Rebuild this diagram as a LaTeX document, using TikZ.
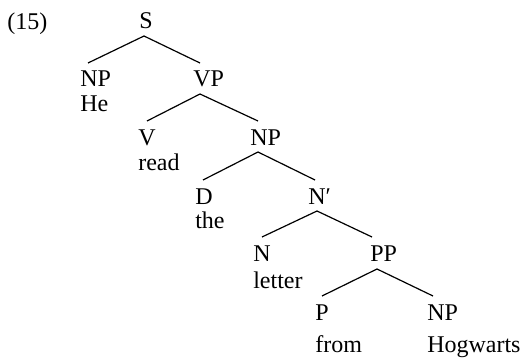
\documentclass[tikz,border=0pt]{standalone}
\usepackage{fontspec}
\setmainfont{Liberation Serif}
\usetikzlibrary{calc}

\tikzset{
  cat/.style={anchor=base west, inner sep=0pt, font=\fontsize{18}{21}\selectfont},
  word/.style={anchor=base west, inner sep=0pt, font=\fontsize{18}{21}\selectfont},
  branch/.style={line width=0.9pt}
}

\begin{document}
\begin{tikzpicture}[x=0.75pt, y=-0.75pt]
    \useasboundingbox (0,0) rectangle (521,360);

    % example number
    \node[word] (num) at (7,30) {(15)};

    % category labels
    \node[cat] (s)    at (139,29)  {S};
    \node[cat] (np1)  at (80,87)   {NP};
    \node[cat] (vp)   at (193,87)  {VP};
    \node[cat] (v)    at (138,145) {V};
    \node[cat] (np2)  at (250,145) {NP};
    \node[cat] (d)    at (195,204) {D};
    \node[cat] (nbar) at (308,204) {N′};
    \node[cat] (n)    at (253,261) {N};
    \node[cat] (pp)   at (370,261) {PP};
    \node[cat] (p)    at (315,320) {P};
    \node[cat] (np3)  at (427,320) {NP};

    % words
    \node[word] (he)   at (80,112)  {He};
    \node[word] (read) at (138,170) {read};
    \node[word] (the)  at (195,228) {the};
    \node[word] (letter) at (253,288) {letter};
    \node[word] (from) at (315,352) {from};
    \node[word] (hog)  at (427,352) {Hogwarts};

    % branches
    \draw[branch] ($(s.base west)+(5,7)$) -- ($(np1.base west)+(8,-24)$);
    \draw[branch] ($(s.base west)+(5,7)$) -- ($(vp.base west)+(7,-24)$);
    \draw[branch] ($(vp.base west)+(7,7)$) -- ($(v.base west)+(9,-24)$);
    \draw[branch] ($(vp.base west)+(7,7)$) -- ($(np2.base west)+(8,-24)$);
    \draw[branch] ($(np2.base west)+(8,7)$) -- ($(d.base west)+(8,-24)$);
    \draw[branch] ($(np2.base west)+(8,7)$) -- ($(nbar.base west)+(7,-24)$);
    \draw[branch] ($(nbar.base west)+(9,7)$) -- ($(n.base west)+(9,-24)$);
    \draw[branch] ($(nbar.base west)+(9,7)$) -- ($(pp.base west)+(2,-24)$);
    \draw[branch] ($(pp.base west)+(7,8)$) -- ($(p.base west)+(7,-24)$);
    \draw[branch] ($(pp.base west)+(7,8)$) -- ($(np3.base west)+(6,-24)$);
\end{tikzpicture}
\end{document}
